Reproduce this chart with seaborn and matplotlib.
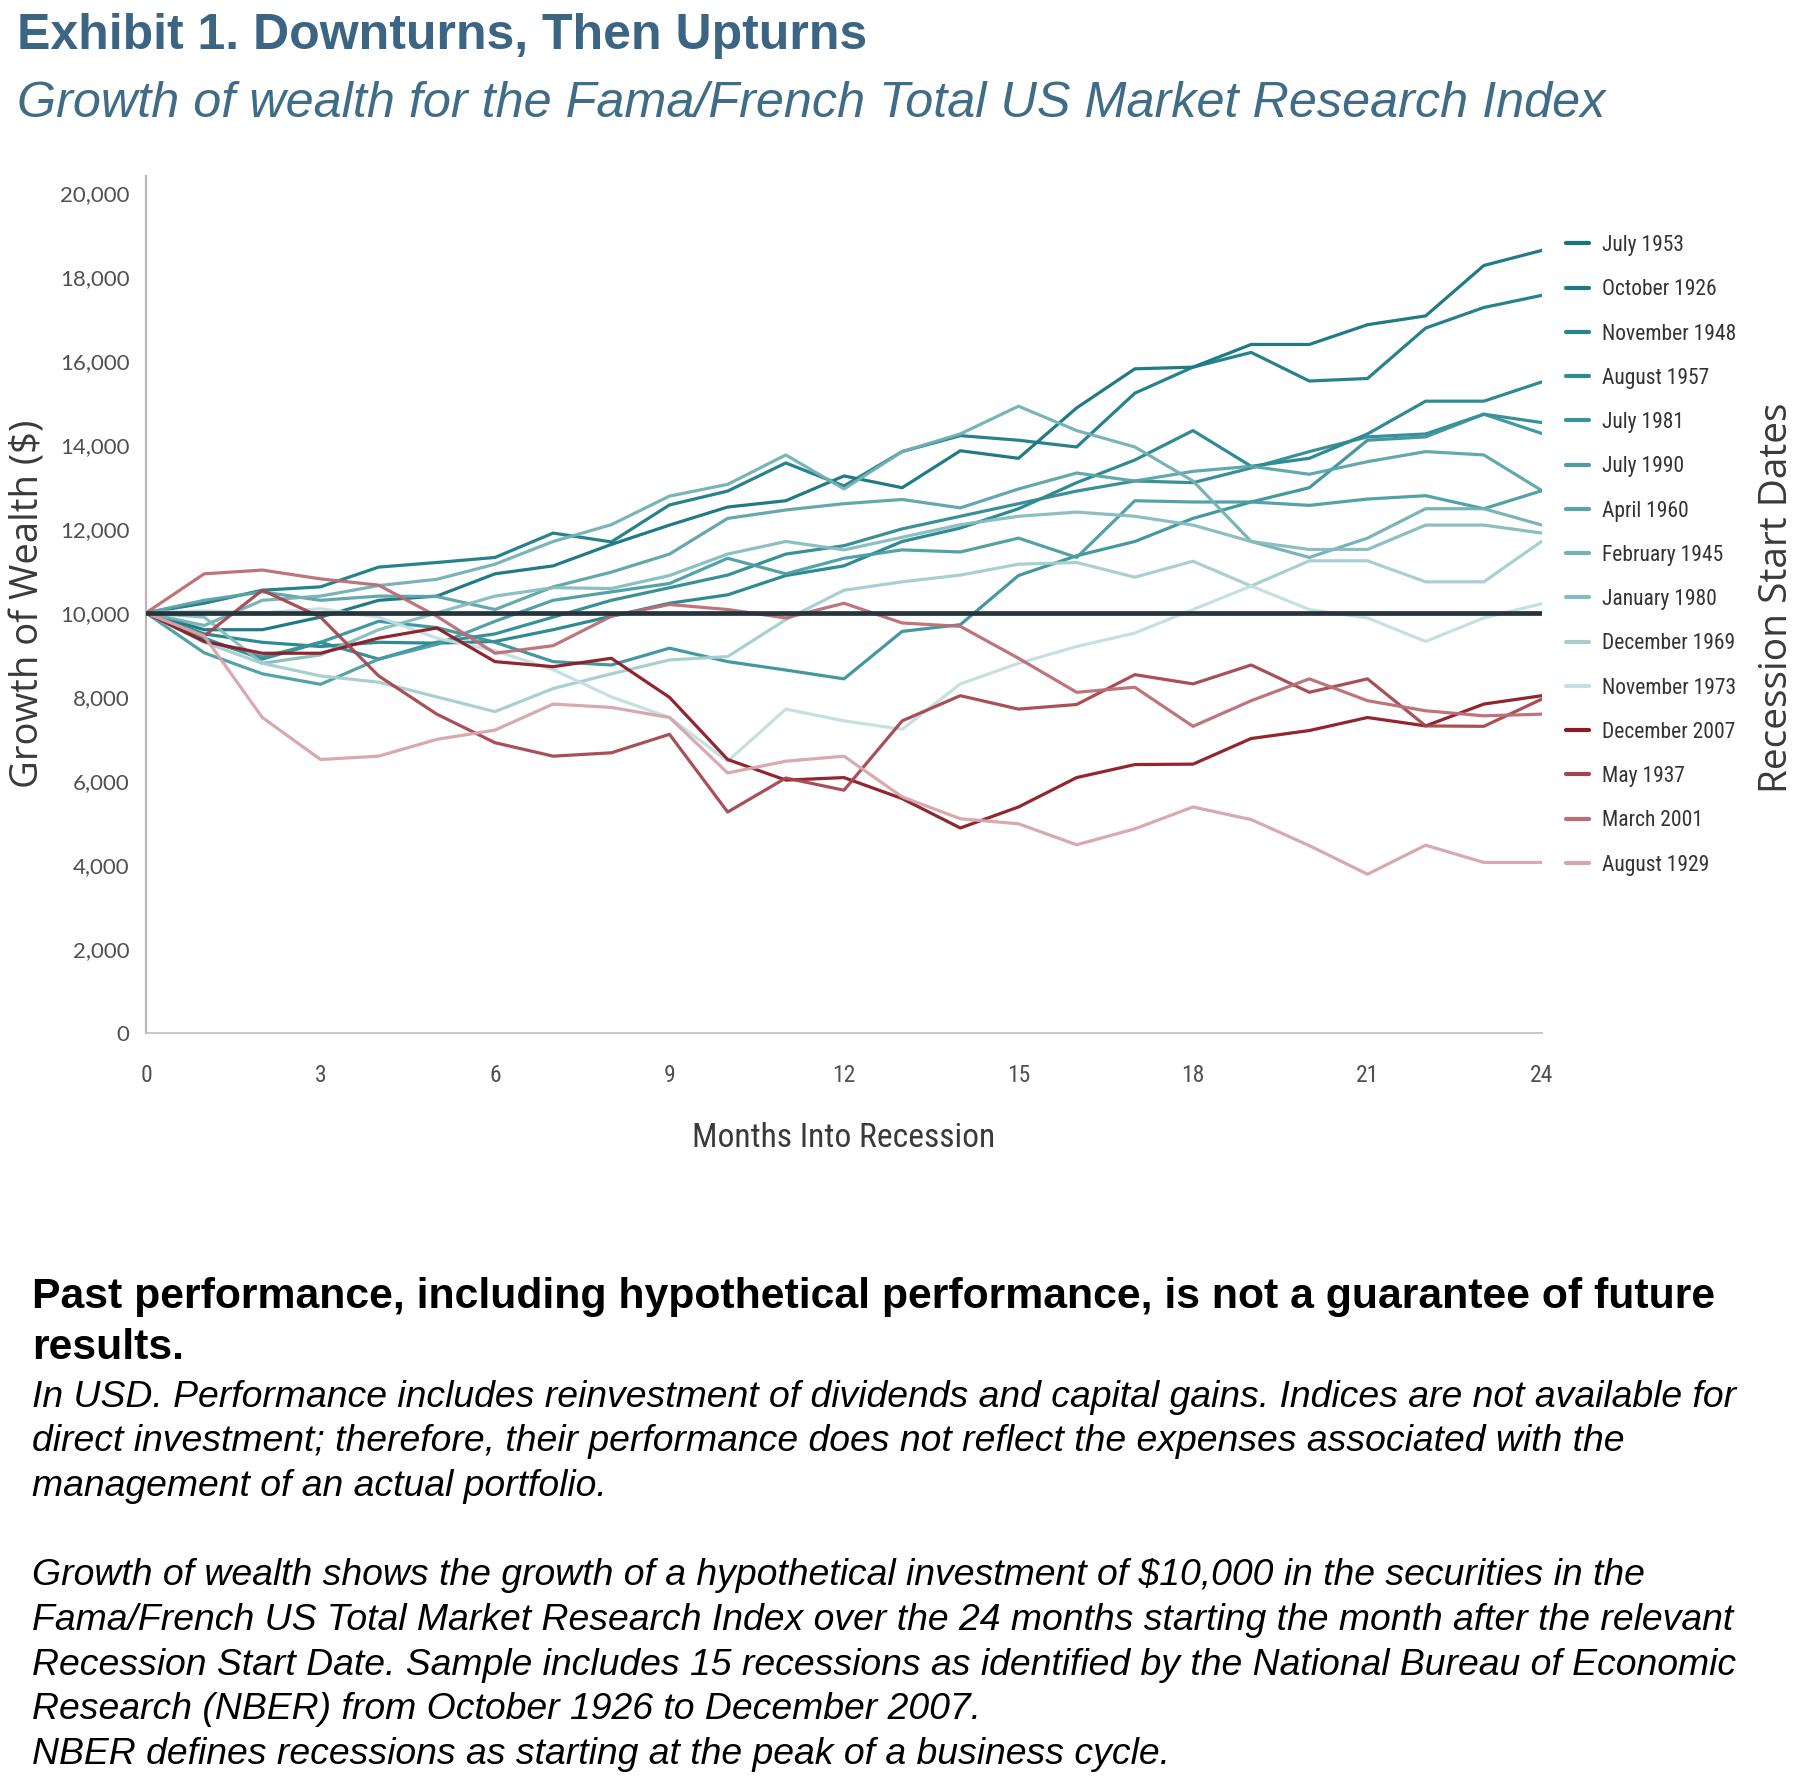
import matplotlib
matplotlib.use("Agg")
import matplotlib.pyplot as plt
import seaborn as sns
import pandas as pd

# ---------------- data ----------------
months = list(range(25))

recessions = ["July 1953", "October 1926", "November 1948", "August 1957", "July 1981",
              "July 1990", "April 1960", "February 1945", "January 1980", "December 1969",
              "November 1973", "December 2007", "May 1937", "March 2001", "August 1929"]

july_1953 = [10000, 9600, 9600, 9900, 10300, 10400, 10930, 11120, 11630, 12090, 12520, 12670, 13260,
             12980, 13860, 13680, 14880, 15810, 15850, 16390, 16390, 16860, 17070, 18270, 18630]
october_1926 = [10000, 10230, 10540, 10620, 11090, 11200, 11320, 11900, 11690, 12570, 12900, 13570, 13020,
                13840, 14220, 14110, 13950, 15230, 15850, 16200, 15520, 15580, 16780, 17270, 17560]
november_1948 = [10000, 9500, 9300, 9200, 9300, 9280, 9320, 9600, 9920, 10230, 10430, 10890, 11120,
                 11700, 12020, 12480, 13100, 13640, 14340, 13490, 13680, 14260, 15040, 15040, 15500]
august_1957 = [10000, 9400, 8900, 9300, 8900, 9300, 9500, 9900, 10300, 10600, 10900, 11400, 11600,
               12000, 12300, 12600, 12900, 13140, 13100, 13450, 13840, 14190, 14260, 14730, 14530]
july_1981 = [10000, 9350, 8950, 9300, 9800, 9650, 9300, 8840, 8760, 9160, 8840, 8640, 8430,
             9560, 9720, 10890, 11360, 11700, 12250, 12640, 12980, 14110, 14190, 14730, 14270]
july_1990 = [10000, 9050, 8550, 8300, 8900, 9250, 9800, 10300, 10500, 10700, 11300, 10930, 11300,
             11500, 11450, 11780, 11320, 12670, 12640, 12640, 12560, 12710, 12790, 12480, 12910]
april_1960 = [10000, 10300, 10500, 10300, 10400, 10390, 10080, 10620, 10970, 11400, 12250, 12450, 12600,
              12700, 12500, 12950, 13330, 13140, 13370, 13490, 13300, 13600, 13840, 13760, 12910]
february_1945 = [10000, 9700, 10300, 10400, 10650, 10800, 11160, 11700, 12100, 12780, 13060, 13760, 12950,
                 13840, 14260, 14920, 14340, 13950, 13140, 11700, 11320, 11780, 12480, 12480, 12090]
january_1980 = [10000, 9900, 8800, 9000, 9600, 10000, 10400, 10600, 10580, 10890, 11400, 11700, 11500,
                11800, 12100, 12300, 12400, 12300, 12090, 11700, 11510, 11510, 12090, 12090, 11900]
december_1969 = [10000, 9300, 8800, 8500, 8350, 8000, 7650, 8200, 8550, 8880, 8960, 9840, 10540,
                 10740, 10900, 11160, 11200, 10850, 11230, 10640, 11240, 11240, 10740, 10740, 11710]
november_1973 = [10000, 10050, 10000, 10100, 9900, 9400, 9100, 8650, 8000, 7510, 6470, 7710, 7430,
                 7230, 8310, 8800, 9200, 9520, 10080, 10640, 10080, 9880, 9320, 9880, 10220]
december_2007 = [10000, 9320, 9040, 9040, 9400, 9640, 8840, 8720, 8920, 7990, 6510, 6020, 6080,
                 5580, 4880, 5380, 6080, 6390, 6400, 7010, 7200, 7510, 7310, 7830, 8030]
may_1937 = [10000, 9450, 10540, 9900, 8500, 7590, 6910, 6590, 6670, 7110, 5260, 6070, 5780,
            7430, 8030, 7710, 7820, 8530, 8310, 8760, 8110, 8430, 7310, 7300, 7950]
march_2001 = [10000, 10930, 11020, 10810, 10660, 9920, 9040, 9220, 9920, 10200, 10080, 9880, 10230,
              9760, 9680, 8920, 8110, 8230, 7300, 7910, 8430, 7910, 7670, 7550, 7590]
august_1929 = [10000, 9450, 7510, 6510, 6590, 6990, 7210, 7830, 7750, 7510, 6190, 6470, 6590,
               5620, 5100, 4980, 4480, 4860, 5380, 5080, 4460, 3780, 4470, 4060, 4060]

series_values = [july_1953, october_1926, november_1948, august_1957, july_1981, july_1990,
                 april_1960, february_1945, january_1980, december_1969, november_1973,
                 december_2007, may_1937, march_2001, august_1929]

colors = ["#147480", "#1a7b86", "#23858e", "#2e8b93", "#3a939b", "#4a9da4", "#5aa4a9",
          "#72b1b4", "#86bcbe", "#a5cecf", "#c3dfe0",
          "#8c1a24", "#a5464e", "#bb6d74", "#d6a5a9"]

baseline = 10000
y_ticks = [0, 2000, 4000, 6000, 8000, 10000, 12000, 14000, 16000, 18000, 20000]
x_ticks = [0, 3, 6, 9, 12, 15, 18, 21, 24]

# ---------------- frame ----------------
rows = []
for name, vals in zip(recessions, series_values):
    for m, v in zip(months, vals):
        rows.append({"Month": m, "Wealth": v, "Recession": name})
df = pd.DataFrame(rows)
palette = dict(zip(recessions, colors))

sns.set_theme(style="white")
plt.rcParams["font.family"] = ["Liberation Sans", "DejaVu Sans"]

W, H = 1803, 1785
fig = plt.figure(figsize=(W / 100, H / 100), dpi=100)
fig.patch.set_facecolor("white")

ax_left, ax_right = 146, 1542
ax_bottom, ax_top = 1033, 176
ax = fig.add_axes([ax_left / W, 1 - ax_bottom / H, (ax_right - ax_left) / W, (ax_bottom - ax_top) / H])

sns.lineplot(data=df, x="Month", y="Wealth", hue="Recession", hue_order=recessions,
             palette=palette, linewidth=2.3, ax=ax, legend=True, alpha=0.95,
             estimator=None, sort=False)
ax.axhline(baseline, color="#26343c", linewidth=3.4, zorder=5)

ax.set_xlim(0, 24)
ax.set_ylim(0, 20400)
ax.set_yticks(y_ticks)
ax.set_yticklabels([f"{t:,}" for t in y_ticks])
ax.set_xticks(x_ticks)
ax.set_xticklabels([str(t) for t in x_ticks])
ax.set_xlabel("")
ax.set_ylabel("")

cond = ["Roboto Condensed", "Liberation Sans Narrow", "Roboto", "DejaVu Sans"]
for lab in ax.get_yticklabels():
    lab.set_family(["Lato", "DejaVu Sans"])
    lab.set_fontsize(16)
    lab.set_color("#505050")
for lab in ax.get_xticklabels():
    lab.set_family(cond)
    lab.set_fontsize(17)
    lab.set_color("#505050")
ax.tick_params(axis="y", length=0, pad=12)
ax.tick_params(axis="x", length=0, pad=22)

for s in ["top", "right"]:
    ax.spines[s].set_visible(False)
ax.spines["left"].set_color("#b8b8b8")
ax.spines["left"].set_linewidth(1.6)
ax.spines["bottom"].set_color("#c4c4c4")
ax.spines["bottom"].set_linewidth(1.3)

# legend
handles, labels = ax.get_legend_handles_labels()
for h in handles:
    h.set_linewidth(3.0)
    h.set_alpha(1)
ax.legend(handles, labels, loc="upper left",
          bbox_to_anchor=(1566 / W, 1 - 235 / H), bbox_transform=fig.transFigure,
          frameon=False, handlelength=1.05, handletextpad=0.6, labelspacing=1.08,
          borderaxespad=0, borderpad=0, prop={"family": cond, "size": 15.5})
for t in ax.get_legend().get_texts():
    t.set_color("#333333")

# axis titles
fig.text(29 / W, 1 - 604 / H, "Growth of Wealth ($)", rotation=90, ha="center", va="center",
         fontsize=27.5, color="#3a3a3a", family=["Open Sans", "DejaVu Sans"])
fig.text(1777 / W, 1 - 598 / H, "Recession Start Dates", rotation=90, ha="center", va="center",
         fontsize=28, color="#3a3a3a", family=["Open Sans", "DejaVu Sans"])
fig.text(844 / W, 1 - 1138 / H, "Months Into Recession", ha="center", va="center",
         fontsize=24.2, color="#3a3a3a", family=cond)

# titles
fig.text(17 / W, 1 - 36 / H, "Exhibit 1. Downturns, Then Upturns", ha="left", va="center",
         fontsize=36, fontweight="bold", color="#3c6584")
fig.text(17 / W, 1 - 104 / H, "Growth of wealth for the Fama/French Total US Market Research Index",
         ha="left", va="center", fontsize=36.3, style="italic", color="#3f6d88")

# footnotes
fig.text(32 / W, 1 - 1297 / H,
         "Past performance, including hypothetical performance, is not a guarantee of future",
         ha="left", va="center", fontsize=30.8, fontweight="bold", color="black")
fig.text(32 / W, 1 - 1348 / H, "results.", ha="left", va="center", fontsize=30.8,
         fontweight="bold", color="black")
notes = [
    (1397, "In USD. Performance includes reinvestment of dividends and capital gains. Indices are not available for"),
    (1441, "direct investment; therefore, their performance does not reflect the expenses associated with the"),
    (1486, "management of an actual portfolio."),
    (1575, "Growth of wealth shows the growth of a hypothetical investment of $10,000 in the securities in the"),
    (1620, "Fama/French US Total Market Research Index over the 24 months starting the month after the relevant"),
    (1665, "Recession Start Date. Sample includes 15 recessions as identified by the National Bureau of Economic"),
    (1709, "Research (NBER) from October 1926 to December 2007."),
    (1754, "NBER defines recessions as starting at the peak of a business cycle."),
]
for y, t in notes:
    fig.text(32 / W, 1 - y / H, t, ha="left", va="center", fontsize=26.9, style="italic", color="black")

fig.savefig("out.png", dpi=100, facecolor="white")
